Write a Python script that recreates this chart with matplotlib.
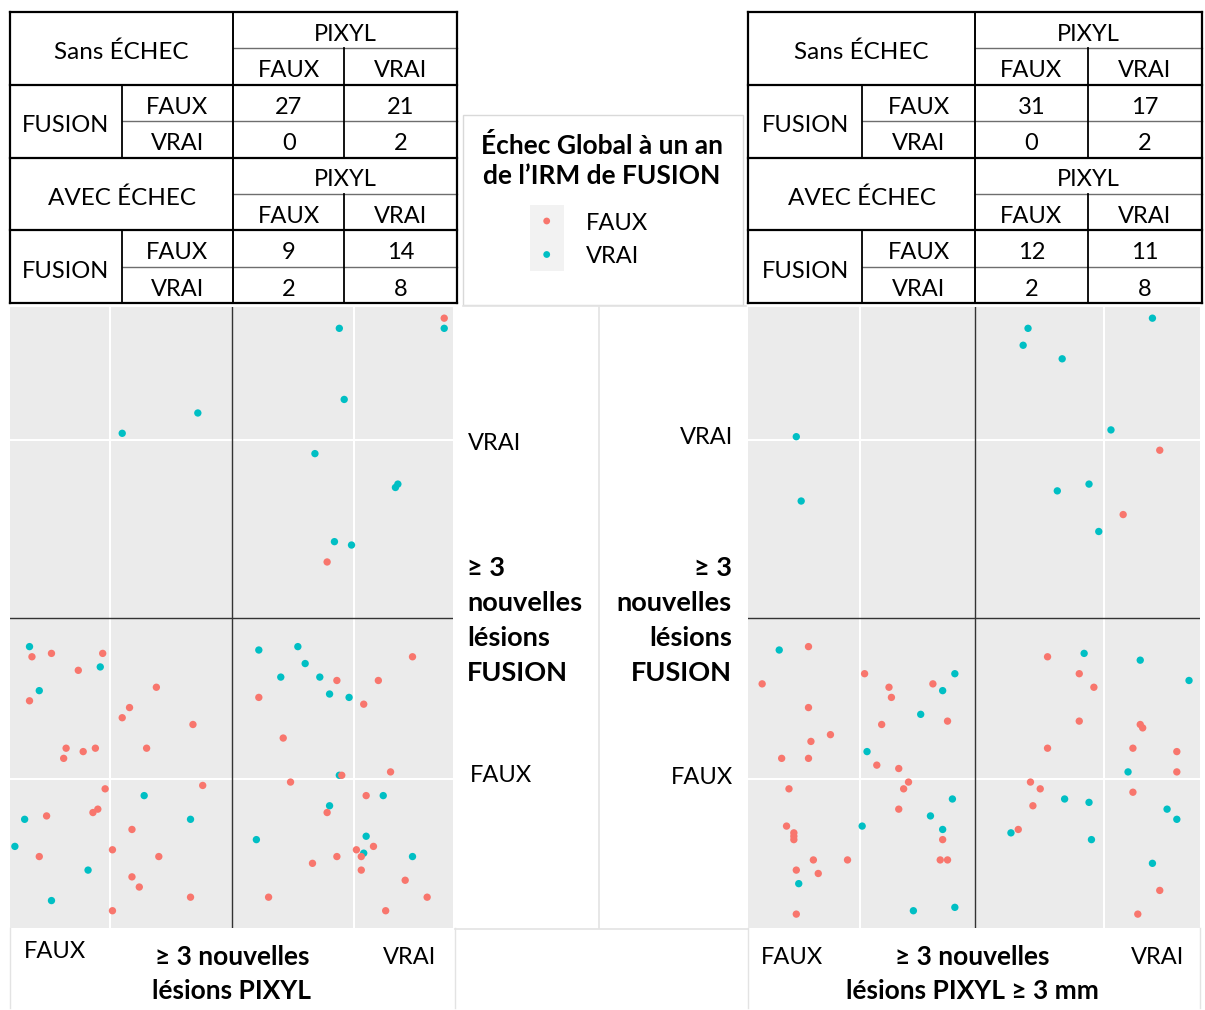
import matplotlib
matplotlib.use('Agg')
import matplotlib.pyplot as plt
from matplotlib.patches import Rectangle

plt.rcParams['font.family'] = ['Lato', 'DejaVu Sans']

# ---------------- DATA ----------------
echec_levels = ['FAUX', 'VRAI']
echec_colors = ['#F8766D', '#00BFC4']
legend_title = "Échec Global à un an\nde l\u2019IRM de FUSION"

# contingency tables [FUSION row][PIXYL col]
left_sans = [[27, 21], [0, 2]]
left_avec = [[9, 14], [2, 8]]
right_sans = [[31, 17], [0, 2]]
right_avec = [[12, 11], [2, 8]]

# jittered points: x = PIXYL (0 FAUX, 1 VRAI), y = FUSION (0 FAUX, 1 VRAI)
# Left panel (>= 3 nouvelles lésions PIXYL)
L_faux_x = [1.37, 0.89,
            -0.32, -0.24, -0.03, -0.13, -0.33, 0.19, 0.08, 0.05, 0.34, 0.15, -0.18, -0.06, -0.11, -0.19,
            0.38, -0.02, -0.05, -0.07, -0.26, 0.09, 0.01, -0.29, 0.20, 0.09, 0.12, 0.33, 0.01,
            1.24, 0.93, 1.10, 0.61, 1.04, 0.71, 0.95, 1.15, 0.74, 1.05, 0.89, 1.08, 1.01, 1.03, 0.93,
            0.83, 1.03, 1.21, 0.65, 1.30, 1.13]
L_faux_y = [1.36, 0.64,
            0.36, 0.37, 0.37, 0.32, 0.23, 0.27, 0.21, 0.18, 0.16, 0.09, 0.09, 0.09, 0.08, 0.06,
            -0.02, -0.03, -0.09, -0.10, -0.11, -0.15, -0.21, -0.23, -0.23, -0.29, -0.32, -0.35, -0.39,
            0.36, 0.29, 0.29, 0.24, 0.22, 0.12, 0.01, 0.02, -0.01, -0.05, -0.10, -0.20, -0.21, -0.23, -0.23,
            -0.25, -0.27, -0.30, -0.35, -0.35, -0.39]
L_vrai_x = [0.05, 0.36,
            1.37, 0.94, 0.96, 0.84, 1.17, 1.18, 0.92, 0.99,
            -0.33, -0.04, -0.29, 0.14, -0.35, 0.33, -0.39, -0.09, -0.24,
            0.61, 0.77, 0.80, 0.70, 0.86, 0.90, 0.98, 0.94, 1.12, 0.90, 0.60, 1.05, 1.04, 1.24]
L_vrai_y = [1.02, 1.08,
            1.33, 1.33, 1.12, 0.96, 0.86, 0.87, 0.70, 0.69,
            0.39, 0.33, 0.26, -0.05, -0.12, -0.12, -0.20, -0.27, -0.36,
            0.38, 0.39, 0.34, 0.30, 0.30, 0.25, 0.24, 0.01, -0.05, -0.08, -0.18, -0.17, -0.22, -0.23]

# Right panel (>= 3 nouvelles lésions PIXYL >= 3 mm)
R_faux_x = [1.23, 1.08,
            -0.21, -0.40, 0.02, 0.12, 0.30, 0.13, -0.21, 0.09, 0.36, -0.12, -0.20, -0.32, -0.21, 0.07,
            0.16, 0.20, -0.29, 0.18, 0.16, -0.30, -0.27, -0.27, -0.27, 0.34, -0.05, -0.19, 0.33, 0.36,
            -0.26, -0.17, -0.26,
            0.77, 0.90, 0.96, 0.90, 1.15, 1.16, 0.77, 1.12, 1.30, 1.30, 0.70, 0.74, 1.12, 0.71, 0.65,
            1.23, 1.14]
R_faux_y = [0.97, 0.78,
            0.39, 0.28, 0.31, 0.27, 0.28, 0.24, 0.21, 0.16, 0.17, 0.13, 0.11, 0.06, 0.06, 0.04,
            0.03, -0.01, -0.03, -0.03, -0.09, -0.14, -0.16, -0.17, -0.18, -0.18, -0.24, -0.24, -0.24, -0.24,
            -0.27, -0.28, -0.40,
            0.36, 0.31, 0.27, 0.17, 0.16, 0.15, 0.09, 0.09, 0.08, 0.02, -0.01, -0.03, -0.04, -0.08, -0.15,
            -0.33, -0.40]
R_vrai_x = [-0.26, -0.24,
            1.20, 0.69, 0.67, 0.83, 1.03, 0.94, 0.81, 0.98,
            -0.33, 0.39, 0.34, 0.25, 0.03, 0.38, 0.29, 0.01, 0.34, -0.25, 0.22, 0.39,
            0.92, 1.15, 1.35, 1.10, 0.84, 0.94, 1.26, 1.30, 0.62, 0.95, 1.20]
R_vrai_y = [1.01, 0.82,
            1.36, 1.33, 1.28, 1.24, 1.03, 0.87, 0.85, 0.73,
            0.38, 0.31, 0.26, 0.19, 0.08, -0.06, -0.11, -0.14, -0.15, -0.31, -0.39, -0.38,
            0.37, 0.35, 0.29, 0.02, -0.06, -0.07, -0.09, -0.12, -0.16, -0.18, -0.25]

W, H = 1205, 1010
fig = plt.figure(figsize=(W / 100, H / 100), dpi=100)
fig.patch.set_facecolor('white')

# overlay in pixel coordinates for tables / labels
ov = fig.add_axes([0, 0, 1, 1])
ov.set_xlim(0, W)
ov.set_ylim(H, 0)
ov.axis('off')

FS = 17
DARK = '#000000'
THIN = '#6e6e6e'


def hline(y, x0, x1, c, lw):
    ov.plot([x0, x1], [y, y], color=c, lw=lw, solid_capstyle='projecting')


def vline(x, y0, y1, c, lw):
    ov.plot([x, x], [y0, y1], color=c, lw=lw, solid_capstyle='projecting')


def draw_table(cols, rows, blocks):
    c0, c1, c2, c3, c4 = cols
    d = 4
    for b, (title, counts) in enumerate(blocks):
        r = rows[4 * b: 4 * b + 5]
        hline(r[1], c2, c4, THIN, 1.0)
        hline(r[3], c1, c4, THIN, 1.0)
        vline(c1, r[2], r[4], DARK, 1.3)
        vline(c3, r[1], r[4], DARK, 1.3)
        ov.text((c0 + c2) / 2, (r[0] + r[2]) / 2 + d, title, ha='center', va='center', fontsize=FS + 0.5)
        ov.text((c2 + c4) / 2, (r[0] + r[1]) / 2 + d, 'PIXYL', ha='center', va='center', fontsize=FS)
        ov.text((c2 + c3) / 2, (r[1] + r[2]) / 2 + d, echec_levels[0], ha='center', va='center', fontsize=FS)
        ov.text((c3 + c4) / 2, (r[1] + r[2]) / 2 + d, echec_levels[1], ha='center', va='center', fontsize=FS)
        ov.text((c0 + c1) / 2, r[3] + d, 'FUSION', ha='center', va='center', fontsize=FS)
        for i in range(2):
            yc = (r[2 + i] + r[3 + i]) / 2 + d
            ov.text((c1 + c2) / 2, yc, echec_levels[i], ha='center', va='center', fontsize=FS)
            ov.text((c2 + c3) / 2, yc, str(counts[i][0]), ha='center', va='center', fontsize=FS)
            ov.text((c3 + c4) / 2, yc, str(counts[i][1]), ha='center', va='center', fontsize=FS)
    for y in rows[::2]:
        hline(y, c0, c4, DARK, 1.6)
    vline(c0, rows[0], rows[-1], DARK, 1.6)
    vline(c4, rows[0], rows[-1], DARK, 1.6)
    vline(c2, rows[0], rows[-1], DARK, 1.4)


rows = [12.3, 48.3, 85, 121, 157.7, 194, 230.3, 267.3, 302.7]
draw_table([10, 121.7, 233.3, 344.3, 456.7], rows,
           [('Sans ÉCHEC', left_sans), ('AVEC ÉCHEC', left_avec)])
draw_table([748, 862, 975, 1088, 1202], rows,
           [('Sans ÉCHEC', right_sans), ('AVEC ÉCHEC', right_avec)])

# faint frame lines of the composed figure
FAINT = '#e3e3e3'
ov.add_patch(Rectangle((462.7, 115), 280, 190, fill=False, ec='#d9d9d9', lw=1.0))
vline(598.7, 307, 928, FAINT, 1.2)
hline(306, 463, 746, FAINT, 1.2)
hline(929, 455, 748, FAINT, 1.2)
vline(10, 928, 1008, FAINT, 1.0)
vline(455, 928, 1008, FAINT, 1.0)
vline(748, 928, 1008, FAINT, 1.0)
vline(1200, 928, 1008, FAINT, 1.0)

# legend
ov.text(602, 160, legend_title, ha='center', va='center', fontsize=19, fontweight='bold',
        linespacing=1.3)
ov.add_patch(Rectangle((530, 205), 34, 66, fc='#f2f2f2', ec='none'))
for i, lab in enumerate(echec_levels):
    yy = 221 + i * 33.5
    ov.scatter([546.7], [yy], s=24, color=echec_colors[i], edgecolors='none')
    ov.text(586, yy + 2, lab, ha='left', va='center', fontsize=FS)

# middle labels
MFS = 19.5
fusion_lines = ['\u2265 3', 'nouvelles', 'lésions', 'FUSION']
ov.text(468, 443, 'VRAI', ha='left', va='center', fontsize=FS)
ov.text(470, 776, 'FAUX', ha='left', va='center', fontsize=FS)
ov.text(733, 437, 'VRAI', ha='right', va='center', fontsize=FS)
ov.text(733, 778, 'FAUX', ha='right', va='center', fontsize=FS)
for i, t in enumerate(fusion_lines):
    ov.text(467, 568 + 35 * i, t, ha='left', va='center', fontsize=MFS, fontweight='bold')
    ov.text(732, 568 + 35 * i, t, ha='right', va='center', fontsize=MFS, fontweight='bold')

# bottom labels
BFS = 19
ov.text(24, 952, 'FAUX', ha='left', va='center', fontsize=FS)
ov.text(410, 958, 'VRAI', ha='center', va='center', fontsize=FS)
ov.text(232, 957, '\u2265 3 nouvelles', ha='center', va='center', fontsize=BFS, fontweight='bold')
ov.text(232, 991, 'lésions PIXYL', ha='center', va='center', fontsize=BFS, fontweight='bold')
ov.text(792, 958, 'FAUX', ha='center', va='center', fontsize=FS)
ov.text(1158, 958, 'VRAI', ha='center', va='center', fontsize=FS)
ov.text(972, 957, '\u2265 3 nouvelles', ha='center', va='center', fontsize=BFS, fontweight='bold')
ov.text(972, 991, 'lésions PIXYL \u2265 3 mm', ha='center', va='center', fontsize=BFS, fontweight='bold')


def panel(px0, px1, xlim, xdiv, faux_x, faux_y, vrai_x, vrai_y):
    top, bot = 307, 928
    ax = fig.add_axes([px0 / W, (H - bot) / H, (px1 - px0) / W, (bot - top) / H])
    ax.set_facecolor('#EBEBEB')
    ax.set_xlim(*xlim)
    ax.set_ylim(-0.441, 1.393)
    for v in (0, 1):
        ax.axvline(v, color='white', lw=1.5, zorder=1)
        ax.axhline(v, color='white', lw=1.5, zorder=1)
    ax.axvline(xdiv, color='#333333', lw=1.0, zorder=2)
    ax.axhline(0.4745, color='#333333', lw=1.0, zorder=2)
    ax.scatter(vrai_x, vrai_y, s=28, color=echec_colors[1], edgecolors='none', zorder=3)
    ax.scatter(faux_x, faux_y, s=28, color=echec_colors[0], edgecolors='none', zorder=3)
    ax.set_xticks([])
    ax.set_yticks([])
    for s in ax.spines.values():
        s.set_visible(False)


panel(10, 453, (-0.41, 1.406), 0.5, L_faux_x, L_faux_y, L_vrai_x, L_vrai_y)
panel(748, 1200, (-0.458, 1.395), 0.4725, R_faux_x, R_faux_y, R_vrai_x, R_vrai_y)

fig.savefig('out.png', dpi=100)
